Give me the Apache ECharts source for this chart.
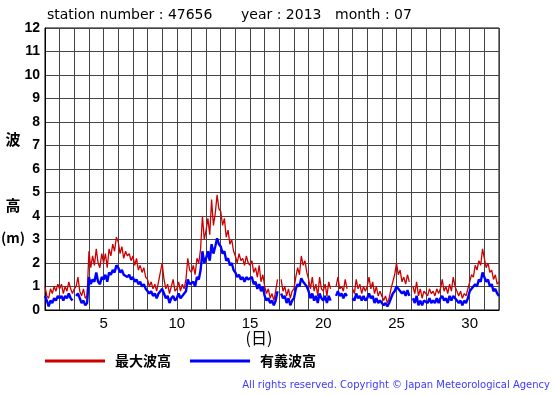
<!DOCTYPE html>
<html>
<head>
<meta charset="utf-8">
<script src="https://cdn.jsdelivr.net/npm/echarts@6/dist/echarts.min.js"></script>
<style>html,body{margin:0;padding:0;background:#fff}#c{width:555px;height:395px}</style>
</head>
<body>
<div id="c"></div>
<script>
// 3-hourly samples, 8 per day, from July 1 00:00 to Aug 1 00:00 (x = day of month)
const samplesPerDay = 8;
const xTickLabels = [5, 10, 15, 20, 25, 30];
const yTickLabels = [0,1,2,3,4,5,6,7,8,9,10,11,12];
const seriesNames = ['最大波高', '有義波高'];
// 最大波高 (max wave height, m)
const maxWave = [
  1.0,0.6,0.5,0.9,0.7,1.0,0.8,1.1,
  0.9,1.1,0.7,1.0,0.8,1.2,0.9,0.7,
  0.9,1.0,1.4,0.8,0.6,0.9,0.5,0.6,
  2.5,1.8,2.3,1.9,2.6,2.0,1.8,2.4,
  2.0,2.4,1.8,2.6,2.3,2.8,2.5,3.1,
  2.9,2.4,2.7,2.2,2.5,2.3,2.4,2.1,
  2.3,1.9,2.2,1.7,1.9,1.6,1.8,1.4,
  1.3,1.0,1.2,0.9,1.1,0.8,1.2,1.6,
  2.0,1.3,0.9,1.1,0.7,1.0,1.3,0.8,
  0.9,1.2,0.8,1.1,0.9,1.3,2.2,1.7,
  1.6,1.9,1.5,2.2,2.0,2.6,4.0,3.0,
  3.4,3.9,3.2,4.7,3.6,4.1,4.9,4.3,
  4.2,3.6,3.9,3.1,3.4,2.8,3.0,2.5,
  2.3,2.0,2.4,2.1,2.2,1.9,2.3,2.0,
  1.9,2.1,1.6,1.8,1.4,1.9,1.2,1.5,
  1.0,0.7,0.9,0.5,0.7,0.4,0.8,1.3,
  null,1.3,0.8,1.0,0.6,0.9,0.5,0.8,
  0.9,1.4,1.8,1.5,2.3,1.9,2.1,1.6,
  1.3,0.9,1.4,0.8,1.1,0.6,1.4,0.9,
  0.8,1.1,0.6,1.2,0.9,null,null,1.0,
  1.4,0.9,1.0,0.8,1.3,0.9,null,null,
  0.9,0.7,1.3,0.9,1.1,0.7,1.0,0.8,
  1.0,1.4,0.9,1.2,0.7,1.0,0.6,0.8,
  0.6,0.4,0.6,0.3,0.5,0.9,1.2,1.5,
  2.0,1.5,1.7,1.2,1.4,1.1,1.5,1.2,
  null,1.0,0.7,1.2,0.6,0.9,0.5,0.8,
  0.8,0.6,0.9,0.7,0.8,0.6,0.9,0.7,
  0.9,1.3,0.8,1.0,0.7,1.1,0.8,1.4,
  1.0,0.8,0.6,0.8,0.5,0.7,0.6,0.9,
  1.2,1.5,1.4,1.9,1.7,2.1,1.9,2.6,
  2.2,1.8,2.0,1.6,1.7,1.3,1.5,1.1,
  1.2
];
// 有義波高 (significant wave height, m)
const sigWave = [
  0.6,0.4,0.15,0.4,0.3,0.5,0.4,0.6,
  0.5,0.6,0.4,0.6,0.5,0.7,0.5,0.4,
  null,0.6,0.7,0.5,0.3,0.4,0.2,0.3,
  1.4,1.1,1.3,1.2,1.6,1.2,1.1,1.4,
  1.3,1.5,1.2,1.6,1.5,1.7,1.6,1.9,
  1.8,1.6,1.7,1.5,1.5,1.4,1.5,1.3,
  1.4,1.2,1.3,1.1,1.2,1.0,1.1,0.9,
  0.9,0.7,0.8,0.6,0.7,0.5,0.7,0.8,
  0.9,0.7,0.5,0.6,0.3,0.5,0.6,0.4,
  0.5,0.7,0.5,0.6,0.6,0.8,1.3,1.1,
  1.1,1.2,1.0,1.4,1.3,1.7,2.5,2.0,
  2.2,2.5,2.1,2.8,2.4,2.7,3.05,2.8,
  2.7,2.4,2.5,2.1,2.2,1.9,2.0,1.7,
  1.6,1.4,1.5,1.3,1.4,1.2,1.4,1.3,
  1.3,1.4,1.1,1.2,0.9,1.1,0.8,1.0,
  0.6,0.4,0.5,0.3,0.4,0.2,0.4,0.8,
  null,0.7,0.5,0.6,0.3,0.5,0.2,0.4,
  0.5,0.9,1.1,1.0,1.35,1.2,1.2,1.0,
  0.8,0.5,0.7,0.4,0.6,0.3,0.7,0.5,
  0.4,0.6,0.3,0.6,0.4,null,null,0.6,
  0.8,0.6,0.7,0.5,0.7,0.6,null,null,
  0.5,0.4,0.7,0.5,0.6,0.4,0.6,0.4,
  0.5,0.7,0.5,0.6,0.3,0.5,0.3,0.4,
  0.3,0.2,0.3,0.15,0.3,0.5,0.7,0.8,
  1.0,0.9,0.95,0.7,0.8,0.6,0.85,0.6,
  null,0.5,0.3,0.6,0.2,0.4,0.2,0.4,
  0.4,0.3,0.5,0.3,0.4,0.3,0.5,0.3,
  0.5,0.6,0.4,0.5,0.3,0.6,0.4,0.6,
  0.5,0.4,0.3,0.4,0.2,0.4,0.3,0.5,
  0.8,0.9,0.9,1.1,1.0,1.3,1.2,1.6,
  1.4,1.2,1.3,1.0,1.1,0.8,0.9,0.7,
  0.6
];

const toPairs = arr => arr.map((v, i) => [1 + i / samplesPerDay, v]);

const chart = echarts.init(document.getElementById('c'), null, {renderer: 'canvas'});
chart.setOption({
  animation: false,
  backgroundColor: '#fff',
  grid: {left: 45, top: 28, right: 56, bottom: 85, show: true, borderColor: '#000', borderWidth: 1, backgroundColor: 'transparent'},
  legend: {
    left: 45, top: 354, padding: 0,
    icon: 'rect', itemWidth: 60, itemHeight: 3, itemGap: 19,
    textStyle: {fontFamily: 'Noto Sans CJK JP', fontSize: 14, fontWeight: 'bold', color: '#000', padding: [0, 0, 0, 5]},
    data: seriesNames
  },
  xAxis: {
    type: 'value', min: 1, max: 32, interval: 1,
    axisLine: {show: true, lineStyle: {color: '#000'}},
    axisTick: {show: false},
    splitLine: {show: true, lineStyle: {color: '#444', width: 1}},
    axisLabel: {
      margin: 6, color: '#000', fontFamily: 'Liberation Sans', fontSize: 15,
      formatter: v => xTickLabels.indexOf(v) >= 0 ? String(v) : ''
    }
  },
  yAxis: {
    type: 'value', min: 0, max: 12, interval: 1,
    axisLine: {show: true, lineStyle: {color: '#000'}},
    axisTick: {show: false},
    splitLine: {show: true, lineStyle: {color: '#444', width: 1}},
    axisLabel: {
      margin: 5, color: '#000', fontFamily: 'Liberation Sans', fontSize: 14, fontWeight: 'bold',
      formatter: v => yTickLabels.indexOf(v) >= 0 ? String(v) : ''
    }
  },
  series: [
    {name: seriesNames[0], type: 'line', data: toPairs(maxWave), showSymbol: false, symbol: 'none',
     connectNulls: false, lineStyle: {color: '#cc0000', width: 1.3}, itemStyle: {color: '#cc0000'}, z: 2},
    {name: seriesNames[1], type: 'line', data: toPairs(sigWave), showSymbol: false, symbol: 'none',
     connectNulls: false, lineStyle: {color: '#0000ff', width: 2.4}, itemStyle: {color: '#0000ff'}, z: 3}
  ],
  graphic: [
    {type: 'text', left: 47, top: 8, style: {text: 'station number : 47656', font: '14px "DejaVu Sans"', fill: '#000'}},
    {type: 'text', left: 241, top: 8, style: {text: 'year : 2013', font: '14px "DejaVu Sans"', fill: '#000'}},
    {type: 'text', left: 335, top: 8, style: {text: 'month : 07', font: '14px "DejaVu Sans"', fill: '#000'}},
    {type: 'text', x: 13, y: 139, style: {text: '波', font: 'bold 15px "Noto Sans CJK JP"', fill: '#000', align: 'center', verticalAlign: 'middle'}},
    {type: 'text', x: 13, y: 205, style: {text: '高', font: 'bold 15px "Noto Sans CJK JP"', fill: '#000', align: 'center', verticalAlign: 'middle'}},
    {type: 'text', x: 13, y: 238, style: {text: '(m)', font: 'bold 14px "Noto Sans CJK JP"', fill: '#000', align: 'center', verticalAlign: 'middle'}},
    {type: 'text', x: 259, y: 338, style: {text: '(日)', font: '16px "Noto Sans CJK JP"', fill: '#000', align: 'center', verticalAlign: 'middle'}},
    {type: 'text', x: 550, y: 385, style: {text: 'All rights reserved. Copyright © Japan Meteorological Agency', font: '10px "DejaVu Sans"', fill: '#3a3aff', align: 'right', verticalAlign: 'middle'}}
  ]
});
</script>
</body>
</html>
